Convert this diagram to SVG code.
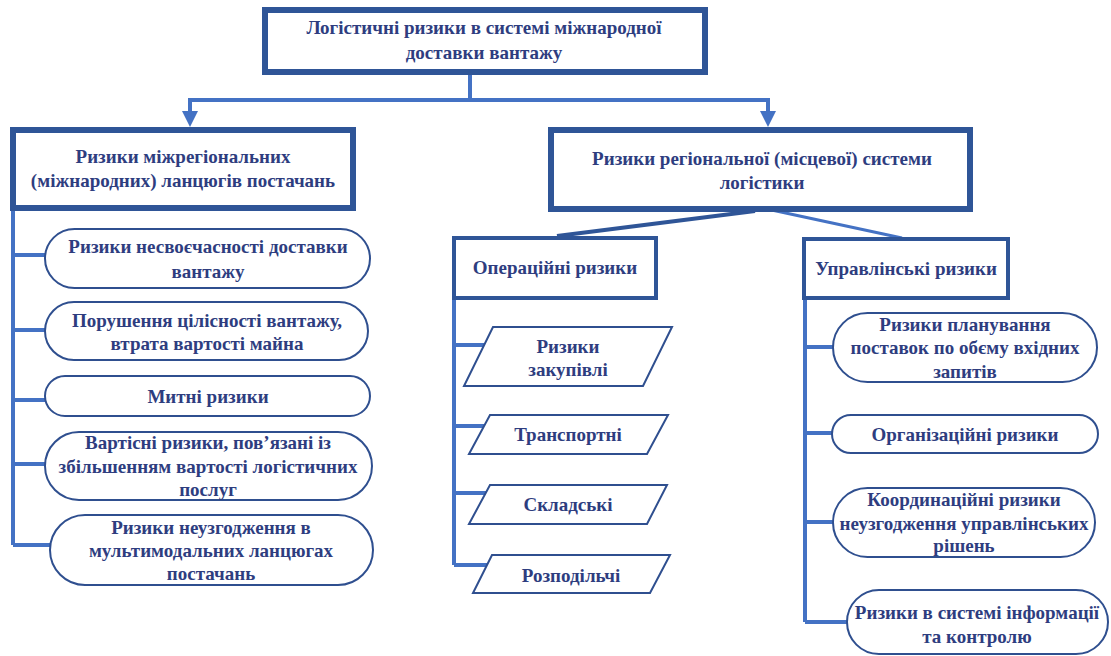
<svg xmlns="http://www.w3.org/2000/svg" width="1111" height="656" viewBox="0 0 1111 656">
<style>
.t{font-family:"Liberation Serif","Times New Roman",serif;font-weight:bold;font-size:19px;fill:#2E3D7F;text-anchor:middle}
.big{fill:#fff;stroke:#2F5597;stroke-width:6}
.mid{fill:#fff;stroke:#2F5597;stroke-width:4}
.pill{fill:#fff;stroke:#2F4F8F;stroke-width:2}
.par{fill:#fff;stroke:#2F4F8F;stroke-width:2}
.c{fill:none;stroke:#4472C4;stroke-width:4}
.ah{fill:#4472C4}
</style>
<rect width="1111" height="656" fill="#fff"/>
<g id="connectors">
<path class="c" d="M470,73 V100 M188,100 H770 M190,100 V112 M768,100 V112"/>
<path class="ah" d="M182,111 L198,111 L190,127 Z"/>
<path class="ah" d="M760,111 L776,111 L768,127 Z"/>
<path d="M755,211 L557,236" stroke="#2F5597" stroke-width="4" fill="none"/>
<path d="M767,209 L902,238" stroke="#4472C4" stroke-width="3" fill="none"/>
<path class="c" d="M13,208 V545 M13,255 H45 M13,330 H45 M13,400 H45 M13,464 H45 M13,545 H50"/>
<path class="c" d="M454,298 V565 M454,345 H484 M454,426 H484 M454,493 H486 M454,565 H487"/>
<path class="c" d="M805,299 V622 M805,347 H833 M805,433 H832 M805,522 H833 M805,622 H847"/>
</g>
<g id="root">
<rect class="big" x="265" y="10" width="440" height="62"/>
<text class="t" x="484" y="34">Логістичні ризики в системі міжнародної</text>
<text class="t" x="484" y="59">доставки вантажу</text>
</g>
<g id="interregional">
<rect class="big" x="13" y="130" width="340" height="78"/>
<text class="t" x="183" y="163">Ризики міжрегіональних</text>
<text class="t" x="183" y="187">(міжнародних) ланцюгів постачань</text>
</g>
<g id="regional">
<rect class="big" x="551" y="130" width="419" height="79"/>
<text class="t" x="762" y="165">Ризики регіональної (місцевої) системи</text>
<text class="t" x="762" y="189">логістики</text>
</g>
<g id="operational">
<rect class="mid" x="454" y="238" width="202" height="60"/>
<text class="t" x="555" y="274">Операційні ризики</text>
</g>
<g id="management">
<rect class="mid" x="804" y="239" width="204" height="59"/>
<text class="t" x="906" y="275">Управлінські ризики</text>
</g>
<g id="l1">
<rect class="pill" x="45" y="229" width="325" height="59" rx="29.5"/>
<text class="t" x="208" y="253">Ризики несвоєчасності доставки</text>
<text class="t" x="208" y="278">вантажу</text>
</g>
<g id="l2">
<rect class="pill" x="45" y="302" width="323" height="58" rx="29"/>
<text class="t" x="207" y="327">Порушення цілісності вантажу,</text>
<text class="t" x="207" y="350">втрата вартості майна</text>
</g>
<g id="l3">
<rect class="pill" x="45" y="376" width="325" height="40" rx="20"/>
<text class="t" x="208" y="403">Митні ризики</text>
</g>
<g id="l4">
<rect class="pill" x="45" y="432" width="327" height="68" rx="34"/>
<text class="t" x="208" y="449">Вартісні ризики, пов’язані із</text>
<text class="t" x="208" y="473">збільшенням вартості логістичних</text>
<text class="t" x="208" y="496">послуг</text>
</g>
<g id="l5">
<rect class="pill" x="50" y="515" width="323" height="70" rx="35"/>
<text class="t" x="211" y="534">Ризики неузгодження в</text>
<text class="t" x="211" y="557">мультимодальних ланцюгах</text>
<text class="t" x="211" y="580">постачань</text>
</g>
<g id="o1">
<polygon class="par" points="493,327 672,327 643,386 464,386"/>
<text class="t" x="568" y="353">Ризики</text>
<text class="t" x="568" y="376">закупівлі</text>
</g>
<g id="o2">
<polygon class="par" points="490,415 668,415 647,454 469,454"/>
<text class="t" x="568" y="441">Транспортні</text>
</g>
<g id="o3">
<polygon class="par" points="490,485 667,485 647,524 469,524"/>
<text class="t" x="568" y="511">Складські</text>
</g>
<g id="o4">
<polygon class="par" points="492,555 670,555 650,593 473,593"/>
<text class="t" x="571" y="582">Розподільчі</text>
</g>
<g id="m1">
<rect class="pill" x="833" y="313" width="264" height="69" rx="34.5"/>
<text class="t" x="965" y="331">Ризики планування</text>
<text class="t" x="965" y="354">поставок по обєму вхідних</text>
<text class="t" x="965" y="378">запитів</text>
</g>
<g id="m2">
<rect class="pill" x="832" y="415" width="266" height="38" rx="19"/>
<text class="t" x="965" y="441">Організаційні ризики</text>
</g>
<g id="m3">
<rect class="pill" x="833" y="488" width="262" height="69" rx="34.5"/>
<text class="t" x="964" y="506">Координаційні ризики</text>
<text class="t" x="964" y="530">неузгодження управлінських</text>
<text class="t" x="964" y="552">рішень</text>
</g>
<g id="m4">
<rect class="pill" x="847" y="590" width="261" height="64" rx="32"/>
<text class="t" x="977" y="619">Ризики в системі інформації</text>
<text class="t" x="977" y="643">та контролю</text>
</g>
</svg>
